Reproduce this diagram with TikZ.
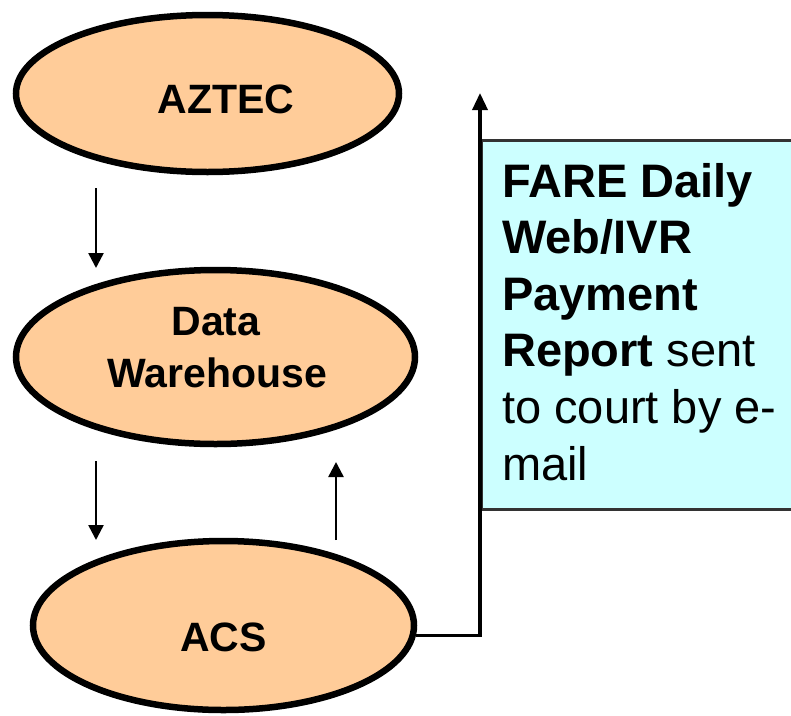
\documentclass[tikz,border=0pt]{standalone}
\usepackage{fontspec}
\setmainfont{Liberation Sans}
\usetikzlibrary{shapes.geometric,arrows.meta}
\definecolor{peach}{HTML}{FFCC99}
\definecolor{paleCyan}{HTML}{CCFFFF}
\begin{document}
\begin{tikzpicture}[x=1pt,y=-1pt,
  oval/.style={ellipse, draw=black, line width=6.5pt, fill=peach, inner sep=0pt},
  ovaltext/.style={anchor=base, inner sep=0pt, font=\fontsize{41}{52}\selectfont\bfseries},
  thinarrow/.style={line width=2.5pt, -{Triangle[width=15pt,length=15pt]}},
  conn/.style={line width=3.5pt, -{Triangle[width=15pt,length=17pt]}},
  notebox/.style={draw=black!80, line width=2.5pt, fill=paleCyan, inner sep=0pt, anchor=north west}]
\useasboundingbox (0,0) rectangle (791,715);
\clip (0,0) rectangle (791,715);
\fill[white] (0,0) rectangle (791,715);

\node[oval, minimum width=383pt, minimum height=157pt] (aztec) at (207.5,93.5) {};
\node[oval, minimum width=399pt, minimum height=174pt] (dw) at (215.5,357) {};
\node[oval, minimum width=381pt, minimum height=169pt] (acs) at (223.5,625.5) {};

\node[ovaltext] (aztecT) at (226,113) {AZTEC};
\node[ovaltext] (dwT1) at (216,335) {Data};
\node[ovaltext] (dwT2) at (217.5,387) {Warehouse};
\node[ovaltext] (acsT) at (223.5,651) {ACS};

\node[notebox, minimum width=340pt, minimum height=369pt] (box) at (480,139) {};
\node[anchor=base west, align=left, inner sep=0pt, font=\fontsize{47}{56.6}\selectfont] (boxT) at (502,480)
  {\textbf{FARE Daily}\\\textbf{Web/IVR}\\\textbf{Payment}\\\textbf{Report} sent\\to court by e-\\mail};

\coordinate (a1s) at (96,188);
\coordinate (a1e) at (96,268);
\coordinate (a2s) at (96,461);
\coordinate (a2e) at (96,540);
\coordinate (a3s) at (336,540);
\coordinate (a3e) at (336,462);
\coordinate (rtop) at (480,93);

\draw[thinarrow] (a1s) -- (a1e);
\draw[thinarrow] (a2s) -- (a2e);
\draw[thinarrow] (a3s) -- (a3e);
\draw[conn] (acs.-3) -| (rtop);
\end{tikzpicture}
\end{document}
